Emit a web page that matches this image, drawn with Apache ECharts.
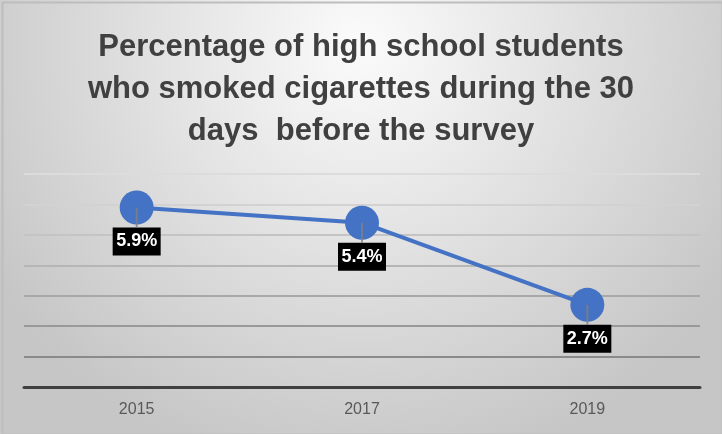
<!DOCTYPE html>
<html>
<head>
<meta charset="utf-8">
<script src="https://cdn.jsdelivr.net/npm/echarts@6/dist/echarts.min.js"></script>
<style>html,body{margin:0;padding:0;background:#fff}#c{width:722px;height:434px}</style>
</head>
<body>
<div id="c"></div>
<script>
const titleText = 'Percentage of high school students\nwho smoked cigarettes during the 30\ndays  before the survey';
const years = ['2015', '2017', '2019'];
const smokedPct = [5.9, 5.4, 2.7];
const yMin = 0, yMax = 7, yStep = 1;

const FONT = '"Liberation Sans", Arial, sans-serif';
const chart = echarts.init(document.getElementById('c'), null, {renderer: 'canvas'});
chart.setOption({
  backgroundColor: {
    type: 'radial', x: 0.5, y: 0.1, r: 1.0,
    colorStops: [{offset: 0, color: '#fbfbfb'}, {offset: 1, color: '#c6c6c6'}]
  },
  animation: false,
  title: {
    text: titleText,
    left: 'center', top: 21,
    textStyle: {fontFamily: FONT, fontWeight: 'bold', fontSize: 31, lineHeight: 42, color: '#404040'}
  },
  graphic: [{
    type: 'rect', left: 0, top: 0, silent: true, z: 100,
    shape: {x: 1, y: 1, width: 720, height: 432},
    style: {fill: 'none', stroke: '#bdbdbd', lineWidth: 2}
  }],
  grid: {left: 24, right: 22, top: 174, bottom: 47},
  xAxis: {
    type: 'category', data: years, boundaryGap: true,
    axisLine: {lineStyle: {color: '#404040', width: 3}},
    axisTick: {show: false},
    axisLabel: {fontFamily: FONT, fontSize: 16, color: '#595959', margin: 15}
  },
  yAxis: {
    type: 'value', min: yMin, max: yMax, interval: yStep,
    axisLabel: {show: false}, axisLine: {show: false}, axisTick: {show: false},
    splitLine: {lineStyle: {width: 2, color: ['transparent', '#8a8a8a', '#999999', '#a8a8a8', '#b6b6b6', '#c4c4c4', '#d2d2d2', '#dcdcdc']}}
  },
  series: [{
    type: 'line', data: smokedPct,
    symbol: 'circle', symbolSize: 34,
    lineStyle: {color: '#4472C4', width: 4},
    itemStyle: {color: '#4472C4'},
    z: 2,
    label: {
      show: true, position: 'bottom', distance: 3,
      formatter: p => p.value + '%',
      backgroundColor: '#000', color: '#fff', fontFamily: FONT, fontWeight: 'bold',
      fontSize: 18, lineHeight: 18, padding: [5, 5], width: 38, align: 'center'
    }
  }, {
    type: 'scatter', data: smokedPct,
    symbol: 'rect', symbolSize: [2, 20], symbolOffset: [0, 10],
    itemStyle: {color: '#808080'}, z: 3, silent: true
  }]
});
</script>
</body>
</html>
